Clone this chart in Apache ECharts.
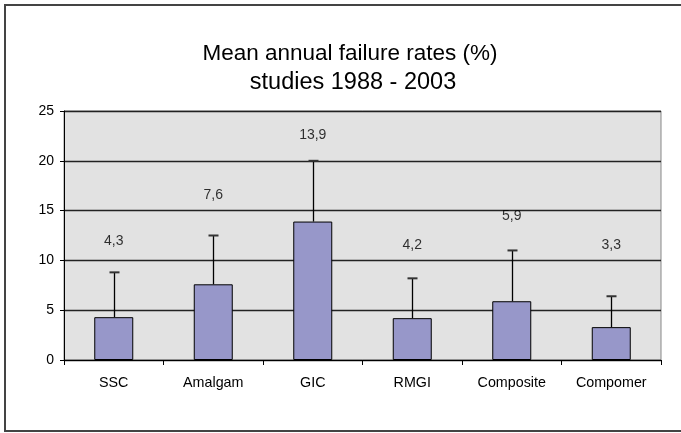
<!DOCTYPE html>
<html>
<head>
<meta charset="utf-8">
<script src="https://cdn.jsdelivr.net/npm/echarts@6/dist/echarts.min.js"></script>
<style>
html,body{margin:0;padding:0;background:#fff;}
#main{width:681px;height:433px;}
</style>
</head>
<body>
<div id="main"></div>
<script>
var categories = ['SSC', 'Amalgam', 'GIC', 'RMGI', 'Composite', 'Compomer'];
var meanRates = [4.3, 7.6, 13.9, 4.2, 5.9, 3.3];
var errorUpper = [4.5, 4.9, 6.1, 4.0, 5.1, 3.1];
var labelHeights = [11.9, 16.6, 22.6, 11.5, 14.4, 11.5];
var yTicks = [0, 5, 10, 15, 20, 25];
var titleLines = ['Mean annual failure rates (%)', 'studies 1988 - 2003'];

var FONT = '"Liberation Sans", Arial, sans-serif';
var chart = echarts.init(document.getElementById('main'), null, {renderer: 'canvas'});

var option = {
  animation: false,
  backgroundColor: '#ffffff',
  title: [{
    text: titleLines[0],
    left: 350,
    textAlign: 'center',
    top: 38,
    padding: 0,
    textStyle: {fontFamily: FONT, fontSize: 22.5, fontWeight: 'normal', color: '#000', lineHeight: 31}
  }, {
    text: titleLines[1],
    left: 353,
    textAlign: 'center',
    top: 67,
    padding: 0,
    textStyle: {fontFamily: FONT, fontSize: 23.5, fontWeight: 'normal', color: '#000', lineHeight: 31}
  }],
  graphic: [{
    type: 'rect',
    shape: {x: 5, y: 5, width: 700, height: 426},
    style: {fill: 'none', stroke: '#444', lineWidth: 2},
    z: 100
  }],
  grid: {
    left: 64, right: 20, top: 111, bottom: 73,
    show: true, backgroundColor: '#e2e2e2', borderColor: '#888', borderWidth: 1
  },
  xAxis: {
    type: 'category',
    data: categories,
    axisLine: {lineStyle: {color: '#000', width: 1}},
    axisTick: {show: true, alignWithLabel: false, length: 5, lineStyle: {color: '#000'}},
    axisLabel: {fontFamily: FONT, fontSize: 14.3, color: '#000', margin: 16}
  },
  yAxis: {
    type: 'value',
    min: yTicks[0], max: yTicks[yTicks.length - 1], interval: 5,
    axisLine: {show: true, lineStyle: {color: '#000', width: 1}},
    axisTick: {show: true, length: 4, inside: false, lineStyle: {color: '#000'}},
    axisLabel: {fontFamily: FONT, fontSize: 14, color: '#000', margin: 10},
    splitLine: {show: true, lineStyle: {color: '#222', width: 1.3}}
  },
  series: [
    {
      type: 'bar',
      data: meanRates,
      barWidth: 39,
      itemStyle: {color: '#9797c9', borderColor: '#000', borderWidth: 1},
      z: 2
    },
    {
      type: 'custom',
      data: categories.map(function (c, i) { return [i, meanRates[i], meanRates[i] + errorUpper[i]]; }),
      renderItem: function (params, api) {
        var bottom = api.coord([api.value(0), api.value(1)]);
        var top = api.coord([api.value(0), api.value(2)]);
        var x = Math.round(bottom[0]) + 0.5;
        return {
          type: 'group',
          children: [
            {type: 'line', shape: {x1: x, y1: bottom[1], x2: x, y2: top[1]}, style: {stroke: '#000', lineWidth: 1.3}},
            {type: 'line', shape: {x1: x - 5, y1: top[1], x2: x + 5, y2: top[1]}, style: {stroke: '#333', lineWidth: 2}}
          ]
        };
      },
      z: 3
    },
    {
      type: 'scatter',
      symbolSize: 0,
      data: categories.map(function (c, i) { return [i, labelHeights[i], meanRates[i]]; }),
      label: {
        show: true, position: 'inside',
        fontFamily: FONT, fontSize: 14, color: '#000',
        formatter: function (p) { return String(p.value[2].toFixed(1)).replace('.', ','); }
      },
      z: 4
    }
  ]
};
chart.setOption(option);
</script>
</body>
</html>
